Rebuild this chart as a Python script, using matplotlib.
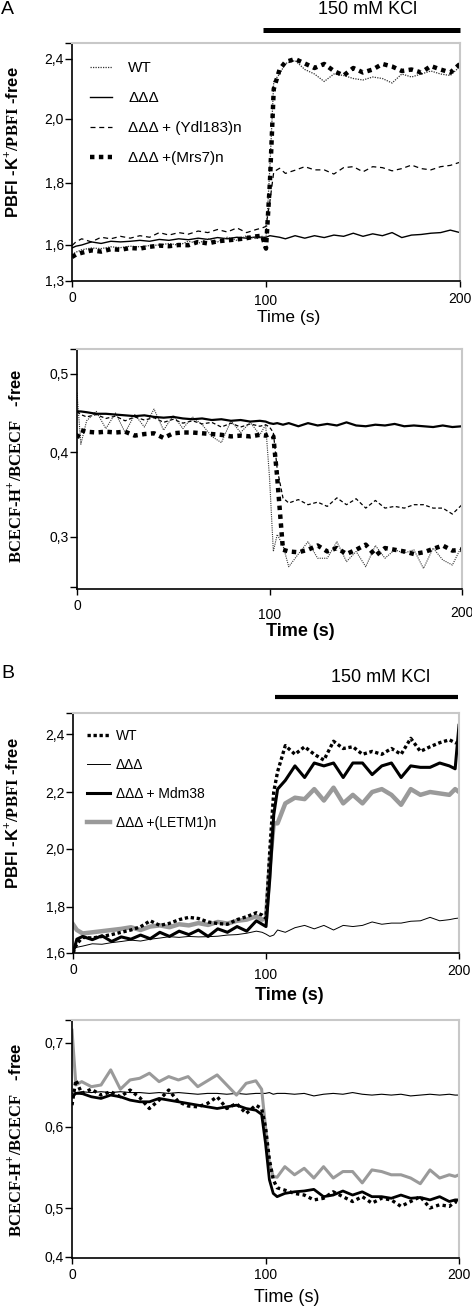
import numpy as np
import matplotlib
matplotlib.use('Agg')
import matplotlib.pyplot as plt
from matplotlib.lines import Line2D
from matplotlib.transforms import ScaledTranslation

plt.rcParams['font.family'] = ['Liberation Sans', 'DejaVu Sans']
plt.rcParams['mathtext.fontset'] = 'custom'
plt.rcParams['mathtext.rm'] = 'Liberation Serif'
plt.rcParams['mathtext.bf'] = 'Liberation Serif:bold'

# time points (s)
tA = [0, 2] + list(range(5, 100, 5)) + [98, 100, 102, 104, 107] + list(range(110, 201, 5))
tB = [0, 2] + list(range(5, 100, 5)) + [98, 100, 102, 104, 106] + list(range(110, 200, 5)) + [198, 200]

# ---- panel A, PBFI (K+) ----
a1_wt = [1.52, 1.54, 1.56, 1.575, 1.570, 1.585, 1.578, 1.590, 1.585, 1.595, 1.600, 1.605, 1.598, 1.612, 1.605,
         1.620, 1.610, 1.625, 1.615, 1.630, 1.620,
         1.628, 1.620, 1.85, 2.25, 2.30,
         2.37, 2.39, 2.33, 2.30, 2.25, 2.30, 2.29, 2.27, 2.26, 2.28, 2.27, 2.24, 2.30, 2.28, 2.30, 2.32, 2.30, 2.29, 2.35]
a1_ddd = [1.575, 1.59, 1.600, 1.610, 1.605, 1.612, 1.610, 1.612, 1.615, 1.612, 1.618, 1.615, 1.620, 1.617, 1.622,
          1.618, 1.624, 1.620, 1.625, 1.622, 1.626,
          1.625, 1.625, 1.630, 1.628, 1.625,
          1.620, 1.630, 1.622, 1.630, 1.624, 1.632, 1.628, 1.638, 1.628, 1.636, 1.630, 1.640, 1.624, 1.632, 1.634,
          1.638, 1.640, 1.648, 1.640]
a1_ydl = [1.595, 1.61, 1.620, 1.610, 1.625, 1.620, 1.628, 1.622, 1.630, 1.625, 1.640, 1.632, 1.640, 1.635, 1.645,
          1.640, 1.650, 1.642, 1.655, 1.640, 1.650,
          1.655, 1.660, 1.74, 1.835, 1.846,
          1.830, 1.840, 1.851, 1.841, 1.841, 1.828, 1.848, 1.851, 1.835, 1.851, 1.848, 1.838, 1.845, 1.856, 1.845,
          1.841, 1.851, 1.855, 1.865]
a1_mrs = [1.50, 1.52, 1.535, 1.555, 1.545, 1.565, 1.560, 1.575, 1.570, 1.585, 1.595, 1.590, 1.600, 1.598, 1.610,
          1.605, 1.612, 1.615, 1.618, 1.622, 1.628,
          1.630, 1.57, 1.80, 2.20, 2.33,
          2.38, 2.40, 2.37, 2.34, 2.367, 2.32, 2.29, 2.34, 2.31, 2.33, 2.367, 2.35, 2.32, 2.33, 2.31, 2.353, 2.33,
          2.31, 2.367]

# ---- panel A, BCECF (H+) ----
a2_wt = [0.476, 0.410, 0.440, 0.452, 0.430, 0.450, 0.425, 0.448, 0.432, 0.455, 0.428, 0.447, 0.430, 0.445, 0.435,
         0.420, 0.412, 0.440, 0.425, 0.438, 0.422,
         0.435, 0.37, 0.283, 0.303, 0.290,
         0.265, 0.280, 0.2945, 0.275, 0.275, 0.2945, 0.271, 0.283, 0.265, 0.290, 0.275, 0.285, 0.281, 0.285,
         0.263, 0.287, 0.273, 0.267, 0.290]
a2_ddd = [0.452, 0.452, 0.451, 0.449, 0.449, 0.448, 0.447, 0.446, 0.447, 0.445, 0.444, 0.445, 0.443, 0.442, 0.443,
          0.441, 0.442, 0.440, 0.441, 0.439, 0.440,
          0.439, 0.437, 0.436, 0.437, 0.435,
          0.437, 0.433, 0.437, 0.434, 0.436, 0.434, 0.438, 0.434, 0.433, 0.435, 0.434, 0.436, 0.433, 0.434, 0.433,
          0.432, 0.434, 0.432, 0.433]
a2_ydl = [0.452, 0.448, 0.445, 0.448, 0.443, 0.446, 0.440, 0.445, 0.441, 0.444, 0.438, 0.442, 0.437, 0.440, 0.436,
          0.438, 0.432, 0.437, 0.432, 0.436, 0.433,
          0.435, 0.432, 0.425, 0.38, 0.346,
          0.340, 0.344, 0.338, 0.341, 0.336, 0.346, 0.338, 0.345, 0.334, 0.343, 0.334, 0.336, 0.334, 0.338, 0.338,
          0.334, 0.334, 0.327, 0.338]
a2_mrs = [0.418, 0.428, 0.426, 0.425, 0.426, 0.425, 0.426, 0.421, 0.423, 0.424, 0.418, 0.424, 0.425, 0.425, 0.424,
          0.423, 0.422, 0.420, 0.421, 0.420, 0.422,
          0.421, 0.423, 0.420, 0.37, 0.285,
          0.283, 0.282, 0.285, 0.290, 0.283, 0.287, 0.280, 0.285, 0.291, 0.278, 0.287, 0.285, 0.283, 0.280, 0.282,
          0.286, 0.290, 0.284, 0.285]

# ---- panel B, PBFI (K+) ----
b1_wt = [1.60, 1.64, 1.668, 1.665, 1.672, 1.680, 1.690, 1.700, 1.714, 1.740, 1.720, 1.729, 1.745, 1.755, 1.750,
         1.735, 1.728, 1.725, 1.745, 1.758, 1.775,
         1.765, 1.75, 2.00, 2.20, 2.27,
         2.36, 2.33, 2.356, 2.33, 2.31, 2.375, 2.35, 2.356, 2.33, 2.34, 2.33, 2.35, 2.33, 2.385, 2.34, 2.356, 2.37,
         2.38, 2.37, 2.37]
b1_ddd = [1.615, 1.625, 1.630, 1.640, 1.638, 1.645, 1.650, 1.656, 1.652, 1.660, 1.665, 1.671, 1.668, 1.672, 1.670,
          1.671, 1.673, 1.678, 1.680, 1.686, 1.695,
          1.690, 1.682, 1.672, 1.678, 1.700,
          1.690, 1.710, 1.720, 1.705, 1.720, 1.700, 1.720, 1.715, 1.720, 1.735, 1.725, 1.730, 1.730, 1.738, 1.740,
          1.755, 1.740, 1.745, 1.750, 1.752]
b1_mdm = [1.60, 1.66, 1.672, 1.658, 1.675, 1.650, 1.670, 1.660, 1.678, 1.662, 1.690, 1.672, 1.695, 1.680, 1.700,
          1.672, 1.705, 1.690, 1.715, 1.695, 1.740,
          1.725, 1.715, 1.90, 2.12, 2.21,
          2.24, 2.29, 2.25, 2.30, 2.29, 2.30, 2.25, 2.30, 2.30, 2.26, 2.29, 2.30, 2.25, 2.29, 2.285, 2.285, 2.30,
          2.29, 2.28, 2.43]
b1_letm = [1.725, 1.70, 1.685, 1.690, 1.695, 1.700, 1.705, 1.712, 1.700, 1.715, 1.720, 1.712, 1.725, 1.720, 1.730,
           1.722, 1.735, 1.728, 1.740, 1.745, 1.760,
           1.745, 1.75, 1.95, 2.09, 2.09,
           2.16, 2.18, 2.175, 2.21, 2.17, 2.215, 2.16, 2.19, 2.16, 2.20, 2.21, 2.19, 2.155, 2.21, 2.19, 2.20, 2.195,
           2.19, 2.21, 2.20]

# ---- panel B, BCECF (H+) ----
b2_wt = [0.626, 0.656, 0.640, 0.645, 0.638, 0.642, 0.636, 0.644, 0.635, 0.622, 0.632, 0.644, 0.630, 0.625, 0.624,
         0.628, 0.636, 0.622, 0.628, 0.616, 0.626,
         0.622, 0.60, 0.56, 0.535, 0.525,
         0.522, 0.518, 0.516, 0.510, 0.512, 0.520, 0.514, 0.508, 0.514, 0.506, 0.512, 0.510, 0.502, 0.508, 0.514,
         0.500, 0.504, 0.502, 0.508, 0.506]
b2_ddd = [0.640, 0.641, 0.642, 0.641, 0.642, 0.641, 0.642, 0.641, 0.641, 0.640, 0.641, 0.640, 0.641, 0.640, 0.639,
          0.640, 0.640, 0.639, 0.640, 0.639, 0.640,
          0.640, 0.640, 0.641, 0.639, 0.640,
          0.640, 0.639, 0.640, 0.637, 0.639, 0.640, 0.639, 0.641, 0.639, 0.638, 0.639, 0.638, 0.639, 0.637, 0.638,
          0.639, 0.638, 0.639, 0.638, 0.638]
b2_mdm = [0.636, 0.640, 0.640, 0.636, 0.634, 0.638, 0.636, 0.632, 0.630, 0.630, 0.634, 0.632, 0.630, 0.628, 0.626,
          0.624, 0.622, 0.624, 0.626, 0.622, 0.620,
          0.615, 0.58, 0.535, 0.518, 0.514,
          0.518, 0.520, 0.521, 0.523, 0.514, 0.516, 0.521, 0.516, 0.520, 0.514, 0.514, 0.512, 0.516, 0.512, 0.513,
          0.510, 0.514, 0.508, 0.510, 0.510]
b2_letm = [0.715, 0.650, 0.654, 0.648, 0.650, 0.668, 0.645, 0.656, 0.658, 0.664, 0.654, 0.660, 0.656, 0.660, 0.648,
           0.655, 0.662, 0.650, 0.638, 0.652, 0.655,
           0.645, 0.60, 0.555, 0.539, 0.538,
           0.551, 0.541, 0.549, 0.537, 0.551, 0.537, 0.545, 0.545, 0.531, 0.547, 0.545, 0.541, 0.541, 0.537, 0.530,
           0.547, 0.537, 0.541, 0.539, 0.541]

D = '\u0394\u0394\u0394'
W, H = 472, 1306
fig = plt.figure(figsize=(W / 100, H / 100), dpi=100)


def box(l, r, t, b):
    return [l / W, 1 - b / H, (r - l) / W, (b - t) / H]


def warp(ax, vals, pos):
    # the printed y axes are not evenly spaced, so map label values onto pixel heights
    ax.set_yscale('function', functions=(lambda v: np.interp(v, vals, pos),
                                         lambda p: np.interp(p, pos, vals)))
    ax.set_ylim(vals[0], vals[-1])


def style(ax, yticks, ylabels, xdy):
    for s in ('top', 'right'):
        ax.spines[s].set_color('#c8c8c8')
        ax.spines[s].set_linewidth(1.5)
    for s in ('left', 'bottom'):
        ax.spines[s].set_linewidth(1.2)
    ax.set_xlim(0, 200)
    ax.set_xticks([0, 100, 200])
    ax.set_xticklabels(['0', '100', '200'])
    ax.set_yticks(yticks)
    ax.set_yticklabels(ylabels)
    ax.tick_params(axis='y', direction='out', length=5, width=1, pad=1, labelsize=10)
    ax.tick_params(axis='x', direction='out', length=4, width=1, pad=3, labelsize=10)
    for lab, dy in zip(ax.get_xticklabels(), xdy):
        lab.set_transform(lab.get_transform() + ScaledTranslation(0, -dy / 100, fig.dpi_scale_trans))


def ftext(x, y, s, **kw):
    fig.text(x / W, 1 - y / H, s, **kw)


def bar(x0, x1, y, lw):
    fig.add_artist(Line2D([x0 / W, x1 / W], [1 - y / H, 1 - y / H], color='black', lw=lw,
                          solid_capstyle='butt', transform=fig.transFigure))


# ===== A top =====
ax = fig.add_axes(box(72, 460, 43, 281))
warp(ax, [1.3, 1.6, 1.8, 2.0, 2.4, 2.507], [0, 36, 98, 162, 222, 238])
ax.plot(tA, a1_ydl, color='black', lw=0.9, ls=(0, (4, 3)), label=D + ' + (Ydl183)n')
ax.plot(tA, a1_ddd, color='black', lw=1.0, label=D)
ax.plot(tA, a1_wt, color='#333333', lw=0.9, ls=(0, (1, 1)), label='WT')
ax.plot(tA, a1_mrs, color='black', lw=3.2, ls=(0, (1, 1)), dash_capstyle='butt', label=D + ' +(Mrs7)n')
style(ax, [1.3, 1.6, 1.8, 2.0, 2.4, 2.507], ['1,3', '1,6', '1,8', '2,0', '2,4', ''], [0, 3, 1])
h, l = ax.get_legend_handles_labels()
ax.legend([h[2], h[1], h[0], h[3]], [l[2], l[1], l[0], l[3]], loc='upper left',
          bbox_to_anchor=(0.046, 0.925), frameon=False, fontsize=11, borderpad=0, borderaxespad=0,
          handlelength=1.45, handletextpad=1.05, labelspacing=1.05)
ftext(289, 317, 'Time (s)', ha='center', va='center', fontsize=12.5)
ftext(12, 142, r'PBFI -K$^{\mathbf{+}}$$\mathbf{/PBFI}$ -free', rotation=90, ha='center', va='center',
      fontsize=12, fontweight='bold')

# ===== A bottom =====
ax = fig.add_axes(box(77, 462, 349, 589))
warp(ax, [0.2388, 0.3, 0.4, 0.5, 0.532], [0, 52, 137, 215, 240])
ax.plot(tA, a2_ydl, color='black', lw=0.9, ls=(0, (3, 2)))
ax.plot(tA, a2_wt, color='#333333', lw=0.8, ls=(0, (1, 1)))
ax.plot(tA, a2_ddd, color='black', lw=1.6)
ax.plot(tA, a2_mrs, color='black', lw=3.2, ls=(0, (1, 1)), dash_capstyle='butt')
style(ax, [0.241, 0.3, 0.4, 0.5, 0.532], ['', '0,3', '0,4', '0,5', ''], [0, 9, 7])
ftext(300, 632, 'Time (s)', ha='center', va='center', fontsize=13, fontweight='bold')
ftext(15, 466, r'$\mathbf{BCECF}$-$\mathbf{H}^{\mathbf{+}}\mathbf{/BCECF}$   -free', rotation=90,
      ha='center', va='center', fontsize=12, fontweight='bold')

# ===== B top =====
ax = fig.add_axes(box(73, 459, 713, 953))
warp(ax, [1.6, 1.8, 2.0, 2.2, 2.4, 2.473], [0, 46, 104, 161, 219, 240])
ax.plot(tB, b1_ddd, color='black', lw=0.7, label=D)
ax.plot(tB, b1_letm, color='#9a9a9a', lw=3.2, label=D + ' +(LETM1)n')
ax.plot(tB, b1_mdm, color='black', lw=2.2, label=D + ' + Mdm38')
ax.plot(tB, b1_wt, color='black', lw=2.4, ls=(0, (1, 0.8)), dash_capstyle='butt', label='WT')
style(ax, [1.6, 1.8, 2.0, 2.2, 2.4, 2.473], ['1,6', '1,8', '2,0', '2,2', '2,4', ''], [0, 5, 1])
h, l = ax.get_legend_handles_labels()
ax.legend([h[3], h[0], h[2], h[1]], [l[3], l[0], l[2], l[1]], loc='upper left',
          bbox_to_anchor=(0.036, 0.935), frameon=False, fontsize=10, borderpad=0, borderaxespad=0,
          handlelength=1.65, handletextpad=0.45, labelspacing=1.08)
ftext(289, 995, 'Time (s)', ha='center', va='center', fontsize=13, fontweight='bold')
ftext(12, 813, r'PBFI -K$^{\mathbf{+}}$$\mathbf{/PBFI}$ -free', rotation=90, ha='center', va='center',
      fontsize=12, fontweight='bold')

# ===== B bottom =====
ax = fig.add_axes(box(72, 459, 1020, 1258))
warp(ax, [0.398, 0.4, 0.5, 0.6, 0.7, 0.727], [0, 1, 50, 131, 215, 238])
ax.plot(tB, b2_ddd, color='black', lw=0.8)
ax.plot(tB, b2_letm, color='#9a9a9a', lw=2.2)
ax.plot(tB, b2_mdm, color='black', lw=2.0)
ax.plot(tB, b2_wt, color='black', lw=2.4, ls=(0, (1, 1)), dash_capstyle='butt')
style(ax, [0.4, 0.5, 0.6, 0.7, 0.727], ['0,4', '0,5', '0,6', '0,7', ''], [0, 0, 0])
ftext(287, 1297, 'Time (s)', ha='center', va='center', fontsize=13)
ftext(15, 1140, r'$\mathbf{BCECF}$-$\mathbf{H}^{\mathbf{+}}\mathbf{/BCECF}$   -free', rotation=90,
      ha='center', va='center', fontsize=12, fontweight='bold')

# panel letters and KCl bars
ftext(1, 9, 'A', ha='left', va='center', fontsize=14)
ftext(368, 10, '150 mM KCl', ha='center', va='center', fontsize=13)
bar(263, 460, 30, 3.6)
ftext(1, 673, 'B', ha='left', va='center', fontsize=14)
ftext(381, 678, '150 mM KCl', ha='center', va='center', fontsize=13)
bar(275, 458, 697, 3.0)

fig.savefig('out.png', dpi=100)
